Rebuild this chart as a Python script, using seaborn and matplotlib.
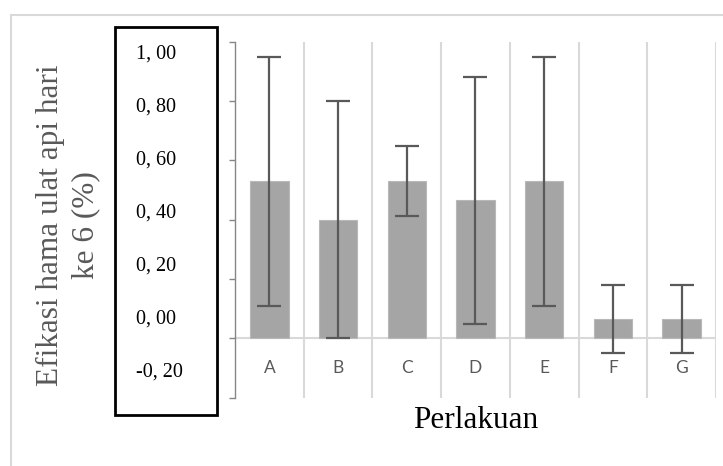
import matplotlib
matplotlib.use("Agg")
import matplotlib.pyplot as plt
import seaborn as sns
import pandas as pd
from matplotlib.lines import Line2D
from matplotlib.patches import Rectangle

# ---- data ----
categories = ["A", "B", "C", "D", "E", "F", "G"]
values = [0.53, 0.40, 0.53, 0.465, 0.53, 0.065, 0.065]
errors = [0.42, 0.40, 0.117, 0.417, 0.42, 0.116, 0.116]
ytick_values = [1.0, 0.8, 0.6, 0.4, 0.2, 0.0, -0.2]
ytick_labels = ["1, 00", "0, 80", "0, 60", "0, 40", "0, 20", "0, 00", "-0, 20"]
ylabel = "Efikasi hama ulat api hari\nke 6 (%)"
xlabel = "Perlakuan"

sns.set_theme(style="white")
serif = ["Liberation Serif", "DejaVu Serif"]
plt.rcParams["font.family"] = ["Lato", "DejaVu Sans"]

W, H = 723, 466
fig = plt.figure(figsize=(W / 100, H / 100), dpi=100)
ax = fig.add_axes([235 / W, 1 - 397.6 / H, (716 - 235) / W, (397.6 - 41.7) / H])

df = pd.DataFrame({"cat": categories, "val": values})
sns.barplot(data=df, x="cat", y="val", color="#A5A5A5", saturation=1,
            width=0.56, errorbar=None, ax=ax, edgecolor="#B8B8B8",
            linewidth=0.8, zorder=3)
ax.errorbar(x=list(range(len(categories))), y=values, yerr=errors, fmt="none",
            ecolor="#595959", elinewidth=1.6, capsize=8.5, capthick=1.6,
            zorder=4)

ax.set_xlim(-0.5, len(categories) - 0.5)
ax.set_ylim(-0.2, 1.0)

# category separators
ax.set_xticks([i + 0.5 for i in range(len(categories))], minor=True)
ax.grid(False)
ax.grid(True, axis="x", which="minor", color="#D9D9D9", linewidth=1.5, zorder=0)
ax.axhline(0, color="#D9D9D9", linewidth=1.5, zorder=2)

ax.set_yticks(ytick_values)
ax.set_yticklabels([])
ax.tick_params(axis="y", which="major", left=True, length=4.5, width=1.0,
               color="#868686", direction="out")
ax.tick_params(axis="x", which="both", length=0, bottom=False)
ax.tick_params(axis="x", which="major", pad=-27, labelsize=12.5,
               labelcolor="#595959")

for s in ["top", "right", "bottom"]:
    ax.spines[s].set_visible(False)
ax.spines["left"].set_color("#868686")
ax.spines["left"].set_linewidth(1.0)

ax.set_xlabel("")
ax.set_ylabel("")

# y tick labels inside a box (left aligned, as in original)
label_y = [54, 107, 160.5, 213.5, 266, 319, 372.5]
for lab, py in zip(ytick_labels, label_y):
    fig.text(136 / W, 1 - py / H, lab, ha="left", va="center",
             fontsize=14.5, family=serif, color="black")
fig.add_artist(Rectangle((115.5 / W, 1 - 415 / H), (216.5 - 115.5) / W,
                         (415 - 26.8) / H, transform=fig.transFigure,
                         fill=False, edgecolor="black", linewidth=2.0))

fig.text(68 / W, 1 - 225 / H, ylabel, rotation=90, ha="center", va="center",
         fontsize=22.5, family=serif, color="#595959", linespacing=1.3,
         multialignment="center")
fig.text(475.5 / W, 1 - 421 / H, xlabel, ha="center", va="center",
         fontsize=22.5, family=serif, color="black")

# outer chart border (top and left visible)
fig.add_artist(Line2D([11 / W, 11 / W], [0, 1 - 15 / H], transform=fig.transFigure,
                      color="#D9D9D9", linewidth=1.5))
fig.add_artist(Line2D([11 / W, 1], [1 - 15 / H, 1 - 15 / H], transform=fig.transFigure,
                      color="#D9D9D9", linewidth=1.5))

fig.savefig("out.png", dpi=100, facecolor="white")
